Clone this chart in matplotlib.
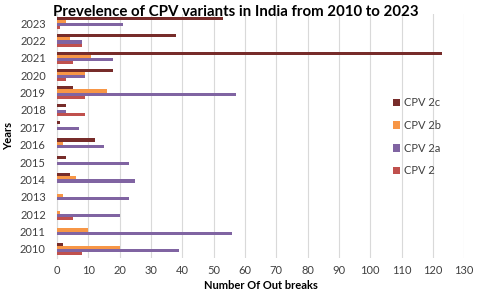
import matplotlib
matplotlib.use('Agg')
import matplotlib.pyplot as plt
import numpy as np

# values (outbreaks per year)
years = ['2010', '2011', '2012', '2013', '2014', '2015', '2016',
         '2017', '2018', '2019', '2020', '2021', '2022', '2023']
cpv_2 = [8, 0, 5, 0, 0, 0, 0, 0, 9, 9, 3, 5, 8, 1]
cpv_2a = [39, 56, 20, 23, 25, 23, 15, 7, 3, 57, 9, 18, 8, 21]
cpv_2b = [20, 10, 1, 2, 6, 0, 2, 0, 0, 16, 9, 11, 4, 3]
cpv_2c = [2, 0, 0, 0, 4, 3, 12, 1, 3, 5, 18, 123, 38, 53]

series = [('CPV 2', cpv_2, '#C0504D'),
          ('CPV 2a', cpv_2a, '#8064A2'),
          ('CPV 2b', cpv_2b, '#F79646'),
          ('CPV 2c', cpv_2c, '#772C2A')]

plt.rcParams['font.family'] = ['Lato', 'DejaVu Sans']

fig = plt.figure(figsize=(4.79, 2.92), dpi=100)
ax = fig.add_axes([0.119, 0.1175, 0.85, 0.8335])

y = np.arange(len(years))
h = 0.18
for i, (name, vals, col) in enumerate(series):
    ax.barh(y + (i - 1.5) * h, vals, height=h, color=col, label=name, zorder=3)

ax.set_xlim(0, 130)
ax.set_ylim(-0.5, len(years) - 0.5)
ax.set_xticks(range(0, 131, 10))
ax.set_yticks(y)
ax.set_yticklabels(years)
ax.tick_params(axis='both', length=0, labelsize=8, colors='#404040')
ax.tick_params(axis='x', pad=5)
ax.tick_params(axis='y', pad=8)
ax.grid(axis='x', color='#D9D9D9', linewidth=0.8, zorder=0)
for s in ['top', 'right', 'bottom']:
    ax.spines[s].set_visible(False)
ax.spines['left'].set_color('#D9D9D9')

fig.text(236 / 479, 1 - 16 / 292, 'Prevelence of CPV variants in India from 2010 to 2023',
         fontsize=10.8, fontweight='bold', ha='center', va='baseline')
ax.set_xlabel('Number Of Out breaks', fontsize=8, fontweight='bold', labelpad=3)
ax.set_ylabel('Years', fontsize=8, fontweight='bold', labelpad=4)

handles, labels = ax.get_legend_handles_labels()
ax.legend(handles[::-1], labels[::-1], loc='center left', bbox_to_anchor=(0.8, 0.496),
          frameon=False, fontsize=8, handlelength=0.7, handleheight=0.7,
          labelspacing=1.05, handletextpad=0.3, labelcolor='#404040')

fig.savefig('out.png', dpi=100)
